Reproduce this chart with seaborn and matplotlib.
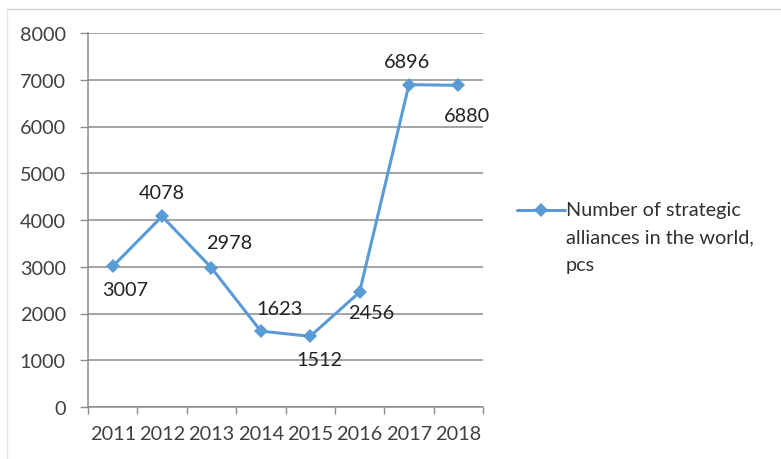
import pandas as pd
import matplotlib.pyplot as plt
import seaborn as sns
from matplotlib.lines import Line2D
from matplotlib.ticker import FixedLocator, NullFormatter

# data
years = ['2011', '2012', '2013', '2014', '2015', '2016', '2017', '2018']
alliances = [3007, 4078, 2978, 1623, 1512, 2456, 6896, 6880]
series_name = 'Number of strategic\nalliances in the world,\npcs'

df = pd.DataFrame({'pos': range(len(years)), 'value': alliances})

sns.set_style('white')
plt.rcParams['font.family'] = ['Lato', 'DejaVu Sans']

blue = '#5B9BD5'
grid_gray = '#8C8C8C'
text_col = '#404040'
fs = 14.3

fig = plt.figure(figsize=(7.81, 4.6), dpi=100)
ax = fig.add_axes([88 / 781, 1 - 408 / 460, (483 - 88) / 781, (408 - 34) / 460])

sns.lineplot(data=df, x='pos', y='value', ax=ax, color=blue, linewidth=2.2,
             marker='D', markersize=7, markeredgewidth=0, legend=False)

ax.set_xlim(-0.5, len(years) - 0.5)
ax.set_ylim(0, 8000)
ax.set_yticks(range(0, 8001, 1000))
ax.set_xlabel('')
ax.set_ylabel('')

# category ticks between the labels, like Excel
ax.xaxis.set_major_locator(FixedLocator([i - 0.5 for i in range(len(years) + 1)]))
ax.xaxis.set_major_formatter(NullFormatter())
ax.xaxis.set_minor_locator(FixedLocator(list(range(len(years)))))
ax.set_xticklabels(years, minor=True)
ax.tick_params(axis='x', which='major', length=5, width=1, color=grid_gray, direction='out', bottom=True)
ax.tick_params(axis='x', which='minor', length=0, pad=13, labelsize=fs, labelcolor=text_col)
ax.tick_params(axis='y', length=6, width=1, color=grid_gray, direction='out', left=True,
               pad=10, labelsize=fs, labelcolor=text_col)

ax.yaxis.grid(True, color=grid_gray, linewidth=1.1)
ax.set_axisbelow(True)
for side in ['top', 'right']:
    ax.spines[side].set_visible(False)
for side in ['left', 'bottom']:
    ax.spines[side].set_color(grid_gray)
    ax.spines[side].set_linewidth(1.1)

# data labels (offsets in pixels)
offsets = [(12, -23), (0, 24), (18, 25), (19, 23), (9, -23), (12, -20), (-2, 23), (9, -30)]
for i, v in enumerate(alliances):
    ax.annotate(str(v), (i, v), textcoords='offset pixels', xytext=offsets[i],
                ha='center', va='center', fontsize=fs, color='#222222')

# legend drawn Excel-style: handle beside the first text line
ly = 1 - 211 / 460
fig.add_artist(Line2D([517 / 781, 565 / 781], [ly, ly], transform=fig.transFigure,
                      color=blue, linewidth=2.2))
fig.add_artist(Line2D([541 / 781], [ly], transform=fig.transFigure, color=blue,
                      marker='D', markersize=7, markeredgewidth=0, linestyle='none'))
fig.text(566 / 781, 1 - 202 / 460, series_name, ha='left', va='top', fontsize=fs,
         color='#303030', linespacing=1.75)

# light chart border (top and left edges visible in the reference)
fig.add_artist(Line2D([7 / 781, 1], [1 - 10 / 460, 1 - 10 / 460], transform=fig.transFigure,
                      color='#D0D0D0', linewidth=1))
fig.add_artist(Line2D([7 / 781, 7 / 781], [0, 1 - 10 / 460], transform=fig.transFigure,
                      color='#E4E4E4', linewidth=1))

plt.savefig('out.png', dpi=100)
